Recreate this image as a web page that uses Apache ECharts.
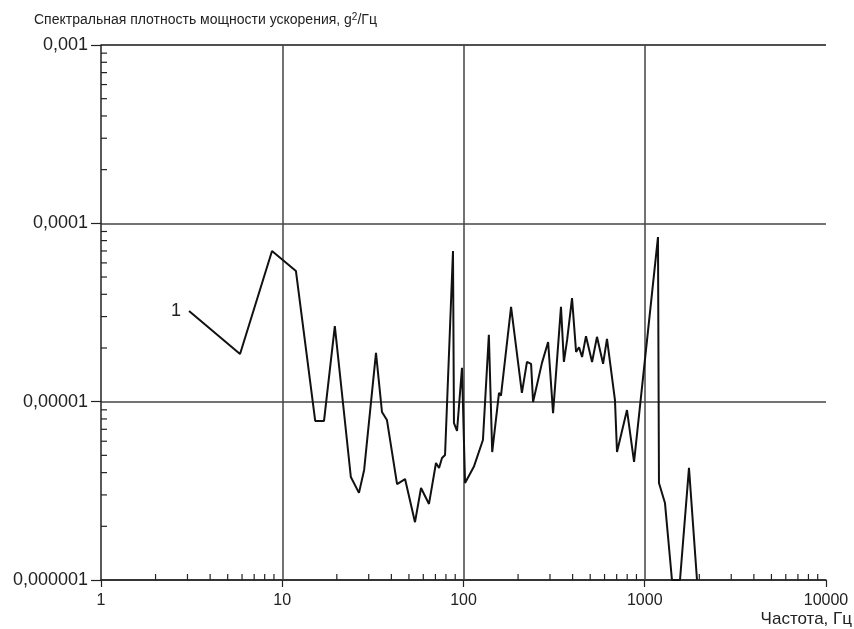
<!DOCTYPE html>
<html>
<head>
<meta charset="utf-8">
<script src="https://cdn.jsdelivr.net/npm/echarts@6/dist/echarts.min.js"></script>
<style>
html,body{margin:0;padding:0;background:#fff;}
#chart{width:854px;height:629px;}
</style>
</head>
<body>
<div id="chart"></div>
<script>
// Frequencies, Hz
const freq = [3.06, 5.85, 8.78, 11.9, 15.2, 17.0, 19.5, 23.9, 26.5, 28.3, 32.9, 35.5, 37.8, 43.0, 47.6, 54.0, 58.3, 64.5, 70.5, 73.3, 76.1, 79.1, 87.5, 88.6, 92.1, 98.1, 102, 114, 128, 138, 144, 157, 161, 183, 210, 224, 236, 242, 271, 293, 312, 345, 358, 373, 397, 418, 434, 451, 474, 512, 545, 589, 619, 685, 703, 798, 873, 1183, 1198, 1293, 1413, 1565, 1754, 1942];
// PSD, g^2/Hz
const psd = [3.22e-5, 1.85e-5, 7.0e-5, 5.4e-5, 7.8e-6, 7.8e-6, 2.65e-5, 3.78e-6, 3.08e-6, 4.14e-6, 1.88e-5, 8.75e-6, 7.9e-6, 3.45e-6, 3.68e-6, 2.11e-6, 3.28e-6, 2.67e-6, 4.53e-6, 4.25e-6, 4.83e-6, 5.02e-6, 7.0e-5, 7.58e-6, 6.85e-6, 1.55e-5, 3.5e-6, 4.31e-6, 6.1e-6, 2.37e-5, 5.22e-6, 1.12e-5, 1.08e-5, 3.4e-5, 1.12e-5, 1.67e-5, 1.63e-5, 9.95e-6, 1.65e-5, 2.16e-5, 8.63e-6, 3.4e-5, 1.67e-5, 2.22e-5, 3.81e-5, 1.9e-5, 2.02e-5, 1.78e-5, 2.33e-5, 1.67e-5, 2.31e-5, 1.63e-5, 2.25e-5, 1.02e-5, 5.22e-6, 8.97e-6, 4.59e-6, 8.38e-5, 3.5e-6, 2.7e-6, 1.0e-6, 1.0e-6, 4.25e-6, 1.0e-6];
const curveLabel = '1';
const xTickLabels = ['1', '10', '100', '1000', '10000'];
const yTickLabels = ['0,000001', '0,00001', '0,0001', '0,001'];
const xGridValues = [10, 100, 1000];
const xMin = 1, xMax = 10000, yMin = 1e-6, yMax = 1e-3;
const titleText = 'Спектральная плотность мощности ускорения, ';
const xName = 'Частота, Гц';

// minor tick positions (2..9 in each decade)
const xMinor = [];
for (let d = 1; d < xMax; d *= 10) for (let k = 2; k <= 9; k++) xMinor.push([k * d, yMin]);
const yMinor = [];
for (let d = yMin; d < yMax * 0.99; d *= 10) for (let k = 2; k <= 9; k++) yMinor.push([xMin, k * d]);

const lineData = freq.map((f, i) => [f, psd[i]]);

const chart = echarts.init(document.getElementById('chart'), null, { renderer: 'canvas' });
const fontFam = 'Liberation Sans, Arial, sans-serif';
chart.setOption({
  animation: false,
  backgroundColor: '#fff',
  title: {
    text: '{a|' + titleText + '}{b|g}{c|2}{a|/Гц}',
    left: 29, top: 7,
    textStyle: {
      fontWeight: 'normal',
      rich: {
        a: { fontSize: 14, color: '#222', fontFamily: fontFam, fontWeight: 'normal' },
        b: { fontSize: 14, color: '#222', fontFamily: fontFam, fontWeight: 'normal' },
        c: { fontSize: 10, color: '#222', fontFamily: fontFam, fontWeight: 'normal', verticalAlign: 'top', padding: [0, 0, 6, 0] }
      }
    }
  },
  graphic: [{
    type: 'text', right: 2, top: 611,
    style: { text: xName, fontSize: 17, fill: '#222', fontFamily: fontFam }
  }],
  grid: { left: 101, right: 28, top: 45, bottom: 49, containLabel: false },
  xAxis: {
    type: 'log', logBase: 10, min: xMin, max: xMax,
    axisLine: { show: true, lineStyle: { color: '#222', width: 1.5 } },
    axisTick: { show: true, inside: false, length: 7, lineStyle: { color: '#222', width: 1.2 } },
    axisLabel: {
      margin: 13, fontSize: 16, color: '#222', fontFamily: fontFam,
      formatter: v => xTickLabels[Math.round(Math.log10(v))]
    },
    splitLine: { show: false }
  },
  yAxis: {
    type: 'log', logBase: 10, min: yMin, max: yMax,
    axisLine: { show: true, lineStyle: { color: '#222', width: 1.5 } },
    axisTick: { show: true, inside: false, length: 10, lineStyle: { color: '#222', width: 1.2 } },
    axisLabel: {
      margin: 13, fontSize: 18, color: '#222', fontFamily: fontFam,
      formatter: v => yTickLabels[Math.round(Math.log10(v)) + 6]
    },
    splitLine: { show: true, lineStyle: { color: '#444', width: 1.5 } }
  },
  series: [
    {
      type: 'line', data: lineData, symbol: 'none', clip: true,
      lineStyle: { color: '#111', width: 2 }, z: 5,
      markPoint: {
        symbol: 'circle', symbolSize: 0, silent: true,
        data: [{ coord: lineData[0], value: curveLabel }],
        label: { show: true, formatter: curveLabel, position: 'left', distance: 8, fontSize: 18, color: '#222', fontFamily: fontFam }
      },
      markLine: {
        symbol: 'none', silent: true, animation: false,
        label: { show: false },
        lineStyle: { color: '#444', width: 1.5, type: 'solid' },
        emphasis: { disabled: true },
        data: xGridValues.map(v => ({ xAxis: v }))
      }
    },
    {
      type: 'custom', data: xMinor, silent: true, z: 4,
      renderItem: (params, api) => {
        const p = api.coord([api.value(0), api.value(1)]);
        return { type: 'line', shape: { x1: p[0], y1: p[1], x2: p[0], y2: p[1] - 6 }, style: { stroke: '#222', lineWidth: 1.2 } };
      }
    },
    {
      type: 'custom', data: yMinor, silent: true, z: 4,
      renderItem: (params, api) => {
        const p = api.coord([api.value(0), api.value(1)]);
        return { type: 'line', shape: { x1: p[0], y1: p[1], x2: p[0] + 6, y2: p[1] }, style: { stroke: '#222', lineWidth: 1.2 } };
      }
    }
  ]
});
</script>
</body>
</html>
